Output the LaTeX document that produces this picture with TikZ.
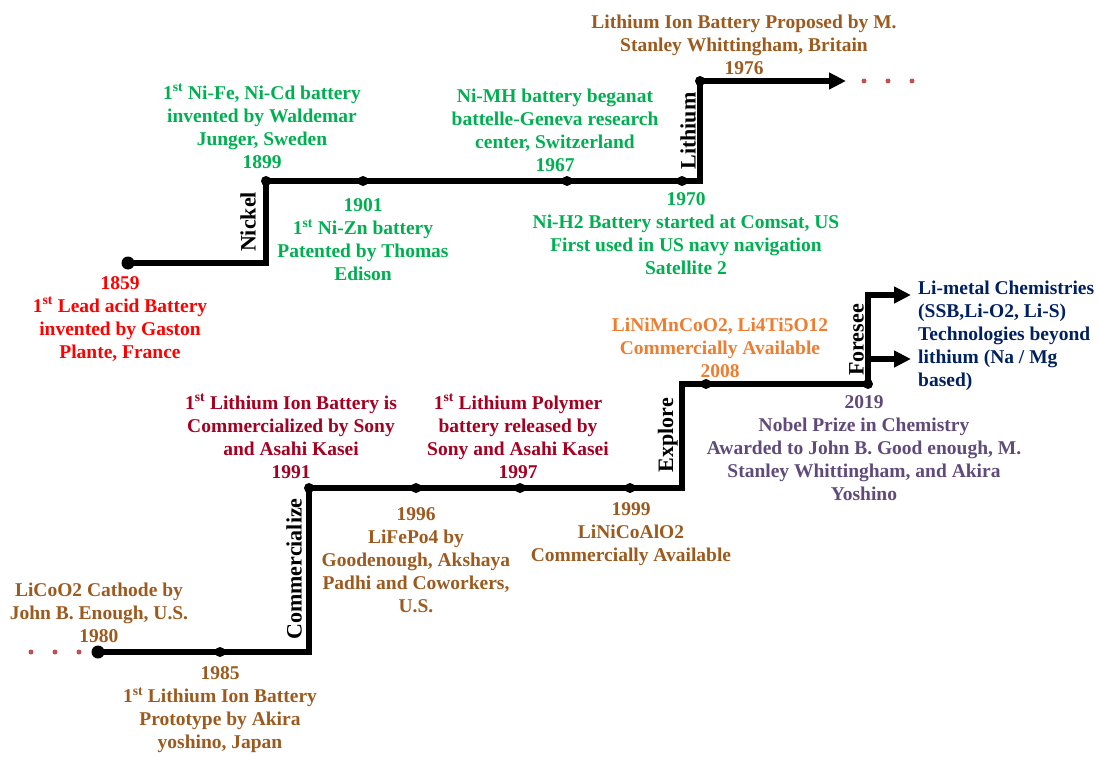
\documentclass[tikz,border=0pt]{standalone}
\usepackage{fontspec}
\setmainfont{Liberation Serif}
\usetikzlibrary{arrows.meta}
\definecolor{cgreen}{HTML}{00B050}
\definecolor{cred}{HTML}{FF0000}
\definecolor{cbrown}{HTML}{9C5A1E}
\definecolor{ccrim}{HTML}{A50021}
\definecolor{corange}{HTML}{ED7D31}
\definecolor{cpurple}{HTML}{604A7B}
\definecolor{cnavy}{HTML}{002060}
\definecolor{cdots}{HTML}{C0504D}
\tikzset{
  tl/.style={line width=5.5pt, line join=miter, black},
  arr/.style={tl, -{Triangle[length=17pt,width=16pt]}},
  dot/.style={circle, fill=black, inner sep=0pt, minimum size=10pt},
  bigdot/.style={circle, fill=black, inner sep=0pt, minimum size=13pt},
  rdot/.style={circle, fill=cdots, inner sep=0pt, minimum size=5pt},
  lbl/.style={font=\bfseries\fontsize{19.5}{23}\selectfont, align=center, inner sep=0pt},
  rot/.style={rotate=90, anchor=south, font=\bfseries\fontsize{22}{22}\selectfont, inner sep=1pt},
}
\newcommand{\st}{\textsuperscript{st}}
\begin{document}
\begin{tikzpicture}[x=1pt,y=-1pt]
\useasboundingbox (0,0) rectangle (1098,757);
% ---------- upper timeline ----------
\node[bigdot] (d1859) at (128,263) {};
\coordinate (u1) at (266,263);
\node[dot] (d1899) at (266,181) {};
\node[dot] (d1901) at (363,181) {};
\node[dot] (d1967) at (567,181) {};
\node[dot] (d1970) at (682,181) {};
\coordinate (u2) at (700,181);
\node[dot] (d1976) at (700,81) {};
\coordinate (u3) at (846,81);
\draw[arr] (d1859.center) -- (u1) -- (d1899.center) -- (d1901.center) -- (d1967.center) -- (d1970.center) -- (u2) -- (d1976.center) -- (u3);
\node[rdot] (r1) at (864,81) {};
\node[rdot] (r2) at (888,81) {};
\node[rdot] (r3) at (912,81) {};
\node[rot] (nickel) at (257,222) {Nickel};
\node[rot] (lithium) at (697,131) {Lithium};
% upper labels
\node[lbl, text=cred] (t1859) at (120,319) {1859\\1\st{} Lead acid Battery\\invented by Gaston\\Plante, France};
\node[lbl, text=cgreen] (t1899) at (262,126) {1\st{} Ni-Fe, Ni-Cd battery\\invented by Waldemar\\Junger, Sweden\\1899};
\node[lbl, text=cgreen] (t1901) at (363,240) {1901\\1\st{} Ni-Zn battery\\Patented by Thomas\\Edison};
\node[lbl, text=cgreen] (t1967) at (555,130) {Ni-MH battery beganat\\battelle-Geneva research\\center, Switzerland\\1967};
\node[lbl, text=cgreen] (t1970) at (686,234) {1970\\Ni-H2 Battery started at Comsat, US\\First used in US navy navigation\\Satellite 2};
\node[lbl, text=cbrown] (t1976) at (744,45) {Lithium Ion Battery Proposed by M.\\Stanley Whittingham, Britain\\1976};
% ---------- lower timeline ----------
\node[rdot] (r4) at (31,652) {};
\node[rdot] (r5) at (55,652) {};
\node[rdot] (r6) at (79,652) {};
\node[bigdot] (d1980) at (98,652) {};
\node[dot] (d1985) at (220,652) {};
\coordinate (l1) at (309,652);
\node[dot] (d1991) at (309,488) {};
\node[dot] (d1996) at (416,488) {};
\node[dot] (d1997) at (520,488) {};
\node[dot] (d1999) at (630,488) {};
\coordinate (l2) at (682,488);
\coordinate (l3) at (682,384);
\node[dot] (d2008) at (706,384) {};
\node[dot] (d2019) at (868,384) {};
\coordinate (l4) at (868,295);
\coordinate (l5) at (911,295);
\coordinate (l6) at (868,359);
\coordinate (l7) at (911,359);
\draw[arr] (d1980.center) -- (d1985.center) -- (l1) -- (d1991.center) -- (d1996.center) -- (d1997.center) -- (d1999.center) -- (l2) -- (l3) -- (d2008.center) -- (d2019.center) -- (l4) -- (l5);
\draw[arr] (l6) -- (l7);
\node[rot] (comm) at (303,569) {Commercialize};
\node[rot] (expl) at (679,435) {Explore};
\node[rot] (fore) at (865,340) {Foresee};
% lower labels
\node[lbl, text=cbrown] (t1980) at (99,613) {LiCoO2 Cathode by\\John B. Enough, U.S.\\1980};
\node[lbl, text=cbrown] (t1985) at (220,710) {1985\\1\st{} Lithium Ion Battery\\Prototype by Akira\\yoshino, Japan};
\node[lbl, text=ccrim] (t1991) at (291,436) {1\st{} Lithium Ion Battery is\\Commercialized by Sony\\and Asahi Kasei\\1991};
\node[lbl, text=cbrown] (t1996) at (416,560) {1996\\LiFePo4 by\\Goodenough, Akshaya\\Padhi and Coworkers,\\U.S.};
\node[lbl, text=ccrim] (t1997) at (518,436) {1\st{} Lithium Polymer\\battery released by\\Sony and Asahi Kasei\\1997};
\node[lbl, text=cbrown] (t1999) at (631,534) {1999\\LiNiCoAlO2\\Commercially Available};
\node[lbl, text=corange] (t2008) at (720,348) {LiNiMnCoO2, Li4Ti5O12\\Commercially Available\\2008};
\node[lbl, text=cpurple] (t2019) at (864,448) {2019\\Nobel Prize in Chemistry\\Awarded to John B. Good enough, M.\\Stanley Whittingham, and Akira\\Yoshino};
\node[lbl, text=cnavy, align=left, anchor=west] (tfut) at (918,336) {Li-metal Chemistries\\(SSB,Li-O2, Li-S)\\Technologies beyond\\lithium (Na / Mg\\based)};
\end{tikzpicture}
\end{document}
